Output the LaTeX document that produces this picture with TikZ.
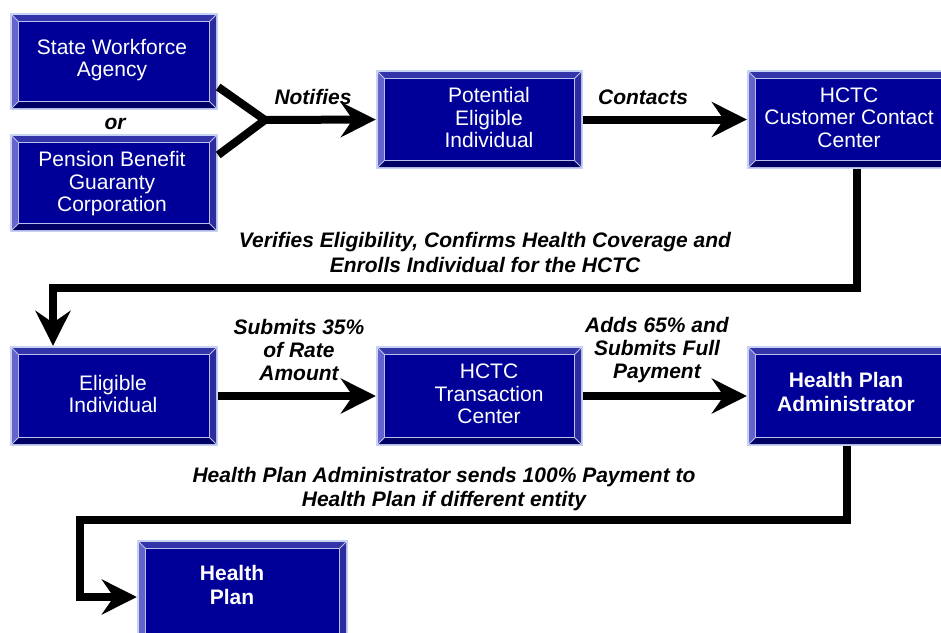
\documentclass[tikz,border=0pt]{standalone}
\usepackage{fontspec}
\setmainfont{Liberation Sans}
\usetikzlibrary{arrows.meta}
\definecolor{bvout}{RGB}{200,210,242}
\definecolor{bvtop}{RGB}{52,52,170}
\definecolor{bvleft}{RGB}{100,100,204}
\definecolor{bvbot}{RGB}{0,0,100}
\definecolor{bvright}{RGB}{44,44,160}
\definecolor{bvline}{RGB}{185,192,238}
\definecolor{bvface}{RGB}{0,0,153}
\newcommand{\bevbox}[5]{%
  \fill[bvout] (#2,#3) rectangle (#4,#5);
  \fill[bvtop] ({#2+2},{#3+2}) -- ({#4-2},{#3+2}) -- ({#4-8},{#3+8}) -- ({#2+8},{#3+8}) -- cycle;
  \fill[bvbot] ({#2+2},{#5-2}) -- ({#4-2},{#5-2}) -- ({#4-8},{#5-8}) -- ({#2+8},{#5-8}) -- cycle;
  \fill[bvleft] ({#2+2},{#3+2}) -- ({#2+8},{#3+8}) -- ({#2+8},{#5-8}) -- ({#2+2},{#5-2}) -- cycle;
  \fill[bvright] ({#4-2},{#3+2}) -- ({#4-8},{#3+8}) -- ({#4-8},{#5-8}) -- ({#4-2},{#5-2}) -- cycle;
  \draw[bvline,line width=0.8pt] ({#2+2},{#3+2}) -- ({#2+8.5},{#3+8.5})
        ({#4-2},{#3+2}) -- ({#4-8.5},{#3+8.5})
        ({#2+2},{#5-2}) -- ({#2+8.5},{#5-8.5})
        ({#4-2},{#5-2}) -- ({#4-8.5},{#5-8.5});
  \draw[bvline,line width=1pt] ({#2+8.5},{#3+8.5}) rectangle ({#4-8.5},{#5-8.5});
  \fill[bvface] ({#2+9},{#3+9}) rectangle ({#4-9},{#5-9});
  \node[inner sep=0pt, minimum width={(#4-#2)*1pt}, minimum height={(#5-#3)*1pt}] (#1) at ({(#2+#4)/2},{(#3+#5)/2}) {};
}
\tikzset{
  boxtxt/.style={text=white, align=center, inner sep=0pt, font=\fontsize{21}{22.5}\selectfont},
  boxtxtb/.style={boxtxt, font=\fontsize{21}{24.5}\selectfont\bfseries},
  lbl/.style={align=center, inner sep=0pt, font=\fontsize{21}{23}\selectfont\bfseries\itshape},
  wire/.style={line width=8pt, line join=miter, black},
  arr/.style={wire, -{Stealth[length=35pt, width=35pt, inset=12pt]}}
}
\begin{document}
\begin{tikzpicture}[x=1pt, y=-1pt]
\useasboundingbox (0,0) rectangle (941,632);
\clip (0,0) rectangle (941,632);
\fill[white] (0,0) rectangle (941,632);
% boxes
\bevbox{swa}{10}{13}{218}{110}
\bevbox{pbgc}{10}{134}{218}{232}
\bevbox{pei}{376}{70}{583}{169}
\bevbox{ccc}{747}{70}{955}{169}
\bevbox{ei}{10}{346}{218}{446}
\bevbox{tc}{376}{346}{583}{446}
\bevbox{hpa}{747}{346}{955}{446}
\bevbox{hp}{137}{540}{348}{654}
% box texts
\node[boxtxt] (swa-t) at (112,60) {State Workforce\\Agency};
\node[boxtxt] (pbgc-t) at (112,184) {Pension Benefit\\Guaranty\\Corporation};
\node[boxtxt] (pei-t) at (489,117.5) {Potential\\Eligible\\Individual};
\node[boxtxt] (ccc-t) at (849,117.5) {HCTC\\Customer Contact\\Center};
\node[boxtxt] (ei-t) at (113,394) {Eligible\\Individual};
\node[boxtxt] (tc-t) at (489,394) {HCTC\\Transaction\\Center};
\node[boxtxtb] (hpa-t) at (846,392) {Health Plan\\Administrator};
\node[boxtxtb] (hp-t) at (232,585) {Health\\Plan};
% labels
\node[lbl] (or) at (115,124) {or};
\node[lbl] (notifies) at (313,97) {Notifies};
\node[lbl] (contacts) at (643,97) {Contacts};
\node[lbl, font=\fontsize{21}{25}\selectfont\bfseries\itshape] (verifies) at (485,252) {Verifies Eligibility, Confirms Health Coverage and\\Enrolls Individual for the HCTC};
\node[lbl] (submits) at (299,350) {Submits 35\%\\of Rate\\Amount};
\node[lbl] (adds) at (657,350) {Adds 65\% and\\Submits Full\\Payment};
\node[lbl, font=\fontsize{21}{24}\selectfont\bfseries\itshape] (sends) at (444,489) {Health Plan Administrator sends 100\% Payment to\\Health Plan if different entity};
% connectors
\coordinate (J) at (265,120);
\draw[wire] ([yshift=-25.5pt]swa.east) -- (J);
\draw[wire] ([yshift=28pt]pbgc.east) -- (J);
\draw[arr] (J) -- (pei.west);
\draw[arr] (pei.east) -- (ccc.west);
\coordinate (b1) at (857,288);
\coordinate (b2) at (53,288);
\draw[arr] ([xshift=6pt]ccc.south) -- (b1) -- (b2) -- ([xshift=-61pt]ei.north);
\draw[arr] (ei.east) -- (tc.west);
\draw[arr] (tc.east) -- (hpa.west);
\coordinate (c1) at (847,520);
\coordinate (c2) at (80,520);
\coordinate (c3) at (80,597);
\draw[arr] ([xshift=-4pt]hpa.south) -- (c1) -- (c2) -- (c3) -- (hp.west);
\end{tikzpicture}
\end{document}
